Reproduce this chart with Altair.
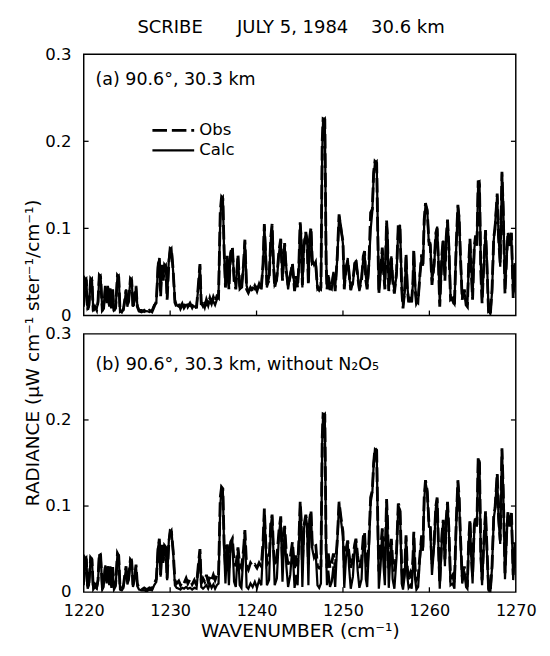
import altair as alt
import pandas as pd

wn = [
    1220.00, 1220.15, 1220.30, 1220.45, 1220.60, 1220.80, 1220.95, 1221.10, 1221.30, 1221.50,
    1221.65, 1221.80, 1221.95, 1222.15, 1222.30, 1222.50, 1222.65, 1222.80, 1222.95, 1223.05,
    1223.20, 1223.35, 1223.50, 1223.70, 1223.90, 1224.05, 1224.20, 1224.40, 1224.60, 1224.75,
    1224.90, 1225.05, 1225.20, 1225.40, 1225.55, 1225.70, 1225.90, 1226.05, 1226.20, 1226.40,
    1226.70, 1227.00, 1227.30, 1227.60, 1227.90, 1228.15, 1228.40, 1228.60, 1228.75, 1228.90,
    1229.05, 1229.20, 1229.35, 1229.50, 1229.65, 1229.85, 1230.00, 1230.15, 1230.35, 1230.55,
    1230.75, 1231.00, 1231.20, 1231.40, 1231.60, 1231.85, 1232.05, 1232.30, 1232.55, 1232.80,
    1233.05, 1233.30, 1233.45, 1233.60, 1233.80, 1234.00, 1234.20, 1234.40, 1234.60, 1234.80,
    1235.00, 1235.20, 1235.40, 1235.60, 1235.80, 1235.95, 1236.10, 1236.25, 1236.40, 1236.60,
    1236.80, 1237.00, 1237.20, 1237.40, 1237.60, 1237.85, 1238.05, 1238.25, 1238.50, 1238.65,
    1238.85, 1239.05, 1239.30, 1239.55, 1239.80, 1240.05, 1240.30, 1240.55, 1240.75, 1240.90,
    1241.05, 1241.20, 1241.45, 1241.65, 1241.80, 1241.95, 1242.10, 1242.35, 1242.60, 1242.80,
    1243.00, 1243.25, 1243.45, 1243.65, 1243.90, 1244.15, 1244.40, 1244.60, 1244.75, 1244.90,
    1245.05, 1245.15, 1245.30, 1245.50, 1245.70, 1245.85, 1246.00, 1246.15, 1246.30, 1246.45,
    1246.65, 1246.85, 1247.05, 1247.25, 1247.45, 1247.60, 1247.70, 1247.90, 1248.05, 1248.15,
    1248.30, 1248.50, 1248.70, 1248.90, 1249.10, 1249.35, 1249.55, 1249.75, 1250.00, 1250.15,
    1250.35, 1250.55, 1250.70, 1250.90, 1251.15, 1251.35, 1251.50, 1251.70, 1251.90, 1252.15,
    1252.35, 1252.50, 1252.65, 1252.80, 1253.00, 1253.20, 1253.40, 1253.55, 1253.70, 1253.90,
    1254.05, 1254.15, 1254.35, 1254.55, 1254.70, 1254.85, 1255.05, 1255.15, 1255.30, 1255.45,
    1255.60, 1255.75, 1255.95, 1256.20, 1256.40, 1256.60, 1256.80, 1256.95, 1257.15, 1257.30,
    1257.45, 1257.60, 1257.80, 1257.95, 1258.10, 1258.20, 1258.35, 1258.50, 1258.70, 1258.90,
    1259.10, 1259.25, 1259.40, 1259.55, 1259.75, 1259.95, 1260.10, 1260.30, 1260.55, 1260.75,
    1260.90, 1261.05, 1261.20, 1261.45, 1261.60, 1261.80, 1261.95, 1262.10, 1262.25, 1262.45,
    1262.70, 1262.90, 1263.10, 1263.30, 1263.45, 1263.60, 1263.80, 1264.05, 1264.25, 1264.40,
    1264.55, 1264.70, 1264.85, 1265.00, 1265.20, 1265.35, 1265.50, 1265.65, 1265.80, 1265.95,
    1266.10, 1266.30, 1266.50, 1266.65, 1266.85, 1267.05, 1267.25, 1267.45, 1267.60, 1267.85,
    1268.00, 1268.20, 1268.40, 1268.55, 1268.75, 1268.95, 1269.10, 1269.30, 1269.50, 1269.70,
    1269.90, 1270.00,
]

obs_a = [
    .012, .042, .040, .006, .012, .042, .040, .005, .010, .006,
    .016, .046, .044, .006, .008, .034, .014, .032, .012, .031,
    .008, .030, .005, .010, .046, .044, .006, .004, .008, .018,
    .029, .012, .016, .042, .040, .008, .020, .034, .010, .005,
    .004, .006, .003, .006, .004, .010, .016, .055, .066, .022,
    .058, .040, .058, .056, .018, .060, .077, .076, .052, .015,
    .010, .014, .008, .012, .010, .016, .010, .014, .009, .014,
    .008, .040, .059, .012, .016, .010, .018, .012, .020, .014,
    .021, .016, .022, .020, .120, .136, .134, .074, .032, .070,
    .030, .072, .079, .040, .030, .070, .034, .028, .060, .087,
    .030, .026, .032, .028, .034, .028, .036, .030, .060, .105,
    .070, .035, .040, .090, .105, .060, .032, .045, .075, .088,
    .040, .083, .050, .034, .045, .060, .028, .045, .032, .060,
    .107, .090, .035, .080, .096, .085, .035, .090, .101, .060,
    .062, .058, .032, .029, .032, .200, .226, .225, .060, .030,
    .048, .029, .035, .048, .028, .070, .116, .100, .085, .030,
    .055, .063, .050, .029, .040, .058, .065, .045, .030, .040,
    .068, .074, .040, .030, .060, .118, .122, .165, .177, .175,
    .080, .025, .050, .078, .050, .030, .109, .090, .028, .050,
    .066, .040, .025, .050, .104, .100, .030, .008, .030, .071,
    .030, .015, .022, .015, .040, .076, .030, .014, .018, .045,
    .070, .055, .110, .129, .120, .085, .081, .035, .060, .095,
    .100, .060, .010, .070, .088, .040, .090, .110, .080, .018,
    .020, .010, .080, .127, .110, .068, .018, .030, .012, .010,
    .060, .088, .050, .018, .080, .092, .080, .155, .150, .050,
    .014, .060, .098, .060, .003, .000, .030, .090, .100, .140,
    .090, .060, .165, .120, .025, .070, .096, .080, .095, .020,
    .060, .030,
]

calc_a = [
    .010, .040, .042, .008, .010, .040, .042, .006, .008, .008,
    .014, .045, .046, .005, .010, .032, .016, .034, .010, .029,
    .010, .028, .006, .008, .045, .046, .004, .005, .006, .016,
    .030, .010, .018, .040, .042, .010, .018, .032, .012, .006,
    .006, .004, .005, .004, .006, .012, .014, .060, .064, .026,
    .056, .044, .056, .058, .020, .064, .075, .077, .050, .018,
    .012, .010, .010, .014, .008, .012, .012, .011, .012, .010,
    .010, .036, .057, .014, .010, .014, .012, .016, .014, .018,
    .016, .012, .018, .024, .110, .134, .136, .070, .035, .066,
    .034, .070, .077, .044, .034, .068, .030, .032, .058, .085,
    .034, .028, .030, .032, .030, .033, .032, .034, .056, .103,
    .074, .032, .044, .086, .103, .064, .035, .040, .072, .086,
    .044, .080, .054, .030, .048, .058, .032, .040, .036, .056,
    .105, .094, .032, .084, .094, .088, .038, .086, .099, .064,
    .058, .062, .030, .032, .030, .190, .224, .226, .070, .034,
    .045, .032, .030, .050, .032, .066, .114, .104, .082, .034,
    .050, .066, .046, .032, .036, .060, .062, .048, .028, .044,
    .064, .072, .045, .032, .055, .098, .120, .160, .175, .177,
    .090, .028, .046, .076, .054, .034, .106, .094, .030, .046,
    .068, .044, .028, .046, .100, .104, .034, .012, .026, .068,
    .034, .018, .018, .019, .036, .074, .035, .016, .014, .048,
    .066, .058, .104, .127, .122, .080, .084, .040, .056, .092,
    .102, .064, .014, .066, .086, .045, .086, .108, .084, .022,
    .016, .013, .076, .125, .114, .064, .022, .026, .016, .012,
    .056, .086, .055, .022, .076, .090, .084, .153, .154, .060,
    .018, .056, .096, .066, .006, .002, .026, .086, .104, .138,
    .094, .056, .163, .126, .030, .066, .094, .084, .090, .024,
    .056, .034,
]

obs_b = [
    .012, .040, .038, .006, .010, .040, .038, .005, .009, .006,
    .014, .045, .043, .006, .008, .032, .013, .030, .010, .030,
    .007, .029, .005, .010, .045, .042, .005, .004, .008, .020,
    .030, .012, .016, .038, .036, .008, .018, .032, .010, .004,
    .003, .005, .003, .005, .004, .010, .015, .050, .062, .020,
    .055, .036, .054, .052, .016, .058, .071, .070, .048, .014,
    .010, .013, .008, .012, .010, .016, .010, .015, .009, .014,
    .008, .036, .050, .010, .016, .012, .020, .012, .018, .014,
    .020, .014, .020, .018, .110, .122, .120, .055, .030, .058,
    .028, .058, .062, .036, .030, .052, .032, .028, .050, .072,
    .030, .026, .034, .030, .032, .028, .034, .030, .058, .097,
    .060, .032, .036, .080, .090, .052, .030, .040, .072, .088,
    .036, .077, .045, .032, .040, .058, .028, .044, .030, .060,
    .105, .088, .032, .078, .090, .080, .032, .085, .095, .055,
    .058, .055, .030, .028, .030, .180, .207, .206, .050, .028,
    .045, .028, .034, .045, .028, .062, .105, .088, .070, .028,
    .050, .060, .045, .028, .040, .055, .062, .042, .028, .038,
    .064, .070, .036, .028, .058, .110, .118, .150, .167, .165,
    .070, .024, .048, .074, .045, .028, .108, .085, .026, .045,
    .062, .036, .024, .048, .103, .098, .028, .008, .028, .066,
    .028, .015, .022, .016, .040, .070, .028, .014, .018, .042,
    .066, .052, .110, .130, .118, .080, .078, .032, .058, .100,
    .110, .055, .010, .066, .084, .038, .085, .105, .075, .016,
    .020, .010, .080, .130, .110, .064, .018, .030, .012, .010,
    .060, .084, .046, .018, .078, .088, .078, .157, .150, .045,
    .014, .058, .094, .055, .004, .001, .030, .088, .098, .138,
    .088, .060, .167, .118, .022, .070, .094, .078, .092, .020,
    .058, .030,
]

calc_b = [
    .008, .038, .040, .004, .008, .040, .039, .003, .006, .004,
    .012, .043, .044, .003, .006, .031, .010, .030, .008, .028,
    .005, .027, .003, .007, .044, .043, .003, .002, .005, .017,
    .028, .009, .014, .036, .037, .006, .016, .030, .007, .003,
    .002, .002, .001, .003, .002, .008, .012, .052, .060, .018,
    .052, .034, .052, .050, .014, .060, .070, .072, .046, .008,
    .005, .004, .003, .005, .004, .006, .004, .005, .003, .005,
    .004, .032, .048, .006, .004, .006, .008, .004, .010, .005,
    .009, .004, .008, .010, .100, .121, .118, .050, .010, .055,
    .008, .056, .060, .012, .006, .050, .008, .005, .046, .070,
    .006, .004, .010, .006, .012, .005, .014, .008, .050, .095,
    .058, .008, .014, .078, .088, .048, .008, .016, .068, .085,
    .012, .075, .030, .006, .020, .054, .005, .020, .008, .054,
    .102, .084, .006, .074, .088, .078, .008, .082, .092, .050,
    .040, .045, .008, .005, .010, .175, .205, .207, .045, .008,
    .025, .006, .012, .030, .006, .060, .103, .085, .065, .005,
    .040, .058, .030, .004, .018, .050, .060, .025, .005, .015,
    .060, .068, .015, .006, .050, .104, .116, .148, .166, .164,
    .065, .004, .030, .072, .030, .008, .105, .080, .005, .036,
    .060, .015, .004, .040, .100, .096, .010, .003, .020, .064,
    .018, .005, .008, .004, .030, .068, .015, .003, .006, .038,
    .064, .048, .106, .128, .116, .076, .075, .020, .054, .098,
    .108, .050, .004, .062, .082, .030, .082, .104, .072, .008,
    .010, .004, .076, .128, .106, .060, .010, .024, .006, .004,
    .056, .082, .040, .010, .075, .086, .076, .155, .150, .040,
    .008, .055, .092, .050, .002, .000, .028, .086, .096, .136,
    .086, .056, .165, .116, .015, .066, .092, .076, .090, .014,
    .055, .028,
]

series_names = ["Obs", "Calc"]
x_tick_values = [1220, 1230, 1240, 1250, 1260, 1270]
y_tick_values = [0, 0.1, 0.2, 0.3]
inner_x_ticks = [1230, 1240, 1250, 1260]
inner_y_ticks = [0.1, 0.2]

NB = "\u00a0"
title_text = "SCRIBE" + NB * 6 + "JULY 5, 1984" + NB * 4 + "30.6 km"
label_a = "(a) 90.6°, 30.3 km"
label_b = "(b) 90.6°, 30.3 km, without N₂O₅"

for arr in (obs_a, calc_a, obs_b, calc_b):
    assert len(arr) == len(wn)

W = 445
HA = 269
HB = 266
FONT = "DejaVu Sans"


def long_df(obs, calc):
    n = len(wn)
    return pd.DataFrame({
        "wn": wn + wn,
        "v": obs + calc,
        "series": ["Obs"] * n + ["Calc"] * n,
    })


xs = alt.Scale(domain=[1220, 1270], nice=False, zero=False)
ys = alt.Scale(domain=[0, 0.3], nice=False, zero=False)


def panel(df, H, label, label_y, show_x, show_legend, ytitle):
    if show_x:
        xaxis = alt.Axis(values=x_tick_values, format="d", labelFontSize=16.5,
                         ticks=False, domain=False, grid=False, labelPadding=11,
                         title="WAVENUMBER (cm⁻¹)", titleFontSize=19,
                         titleFontWeight="normal", titlePadding=3,
                         labelFlush=False, labelColor="black", titleColor="black")
    else:
        xaxis = None
    ykw = dict(values=y_tick_values,
               labelExpr="datum.value == 0 ? '0' : format(datum.value, '.1f')",
               labelFontSize=17, ticks=False, domain=False, grid=False,
               labelPadding=13, labelOverlap=False, labelColor="black")
    if ytitle:
        ykw.update(title=ytitle, titleFontSize=19, titleFontWeight="normal",
                   titleAngle=270, titleX=-53, titleY=19, titleBaseline="middle",
                   titleAlign="center", titleColor="black")
    else:
        ykw.update(title=None)
    yaxis = alt.Axis(**ykw)

    if show_legend:
        legend = alt.Legend(orient="none", legendX=69, legendY=66, title=None,
                            symbolType="M-1,0H3", symbolSize=462,
                            symbolStrokeWidth=2.2, symbolStrokeColor="black",
                            labelFontSize=17, labelColor="black", labelOffset=25,
                            rowPadding=0)
    else:
        legend = None

    lines = alt.Chart(df).mark_line(color="black", clip=True).encode(
        x=alt.X("wn:Q", scale=xs, axis=xaxis),
        y=alt.Y("v:Q", scale=ys, axis=yaxis),
        strokeDash=alt.StrokeDash("series:N",
                                  scale=alt.Scale(domain=series_names, range=[[15, 5], [1, 0]]),
                                  legend=legend),
        strokeWidth=alt.StrokeWidth("series:N",
                                    scale=alt.Scale(domain=series_names, range=[2.9, 2.3]),
                                    legend=None),
    )

    xt = alt.Chart(pd.DataFrame({"wn": inner_x_ticks})).mark_rule(color="black", strokeWidth=1.3).encode(
        x=alt.X("wn:Q", scale=xs, axis=xaxis), y=alt.value(H), y2=alt.value(H - 5))
    ytl = alt.Chart(pd.DataFrame({"v": inner_y_ticks})).mark_rule(color="black", strokeWidth=1.3).encode(
        y=alt.Y("v:Q", scale=ys, axis=yaxis), x=alt.value(0), x2=alt.value(5))
    ytr = alt.Chart(pd.DataFrame({"v": inner_y_ticks})).mark_rule(color="black", strokeWidth=1.3).encode(
        y=alt.Y("v:Q", scale=ys, axis=yaxis), x=alt.value(W - 5), x2=alt.value(W))
    txt = alt.Chart(pd.DataFrame({"t": [label]})).mark_text(
        align="left", baseline="alphabetic", fontSize=18, color="black", font=FONT).encode(
        text="t:N", x=alt.value(12), y=alt.value(label_y))

    return alt.layer(lines, xt, ytl, ytr, txt).properties(width=W, height=H)


pa = panel(long_df(obs_a, calc_a), HA, label_a, 32, False, True, None).properties(
    title=alt.TitleParams(title_text, fontSize=18.5, fontWeight="normal", anchor="middle",
                          frame="group", dx=-9, offset=9, color="black"))
pb = panel(long_df(obs_b, calc_b), HB, label_b, 37, True, False,
           "RADIANCE (μW cm⁻¹ ster⁻¹/cm⁻¹)")

chart = alt.vconcat(pa, pb, spacing=19, bounds="flush").resolve_legend(
    strokeDash="independent", strokeWidth="independent"
).properties(
    padding={"left": 15, "top": 0, "right": 5, "bottom": 0}
).configure(font=FONT).configure_view(stroke="black", strokeWidth=1.5)

chart.save("out.html", embed_options={"renderer": "svg", "actions": False})
